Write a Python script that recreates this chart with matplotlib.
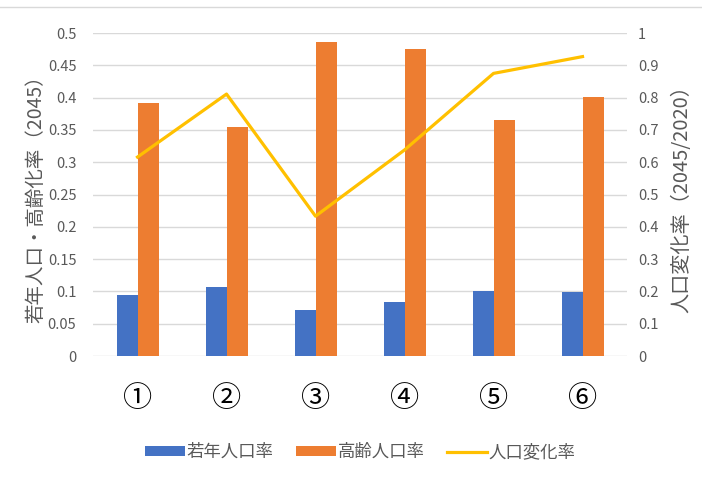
import matplotlib
matplotlib.use("Agg")
import matplotlib.pyplot as plt
import numpy as np
from matplotlib.lines import Line2D

plt.rcParams['font.family'] = ['Noto Sans CJK JP', 'DejaVu Sans']

areas = ['①', '②', '③', '④', '⑤', '⑥']
young_rate = [0.095, 0.107, 0.072, 0.084, 0.101, 0.099]
elderly_rate = [0.391, 0.355, 0.486, 0.475, 0.365, 0.401]
pop_change = [0.616, 0.811, 0.433, 0.638, 0.875, 0.927]

blue = '#4472C4'
orange = '#ED7D31'
yellow = '#FFC000'
gray = '#595959'

fig = plt.figure(figsize=(7.02, 4.8), dpi=100)
ax = fig.add_axes([0.1325, 0.2583, 0.7607, 0.6729])
ax2 = ax.twinx()

x = np.arange(len(areas))
w = 0.236
ax.bar(x - w / 2, young_rate, w, color=blue, label='若年人口率', zorder=2)
ax.bar(x + w / 2, elderly_rate, w, color=orange, label='高齢人口率', zorder=2)
ax2.plot(x, pop_change, color=yellow, lw=2.3, label='人口変化率')

ax.set_xlim(-0.5, len(areas) - 0.5)
ax.set_ylim(0, 0.5)
ax.set_yticks(np.arange(0, 0.501, 0.05))
ax.set_yticklabels(['0', '0.05', '0.1', '0.15', '0.2', '0.25', '0.3', '0.35', '0.4', '0.45', '0.5'])
ax2.set_ylim(0, 1)
ax2.set_yticks(np.arange(0, 1.01, 0.1))
ax2.set_yticklabels(['0', '0.1', '0.2', '0.3', '0.4', '0.5', '0.6', '0.7', '0.8', '0.9', '1'])

ax.grid(axis='y', color='#d9d9d9', lw=1, zorder=0)
ax.set_axisbelow(True)
for a in (ax, ax2):
    for s in a.spines.values():
        s.set_visible(False)
    a.tick_params(axis='y', length=0, colors=gray, labelsize=10.5)

ax.tick_params(axis='y', pad=12)
ax2.tick_params(axis='y', pad=8)
ax.set_xticks(x)
ax.set_xticklabels(areas, fontsize=21, color='black')
ax.tick_params(axis='x', length=0, pad=20)

ax.set_ylabel('若年人口・高齢化率（2045）', fontsize=14, color=gray, labelpad=1)
ax2.set_ylabel('人口変化率（2045/2020）', fontsize=14.5, color=gray, labelpad=9)

h1, l1 = ax.get_legend_handles_labels()
h2, l2 = ax2.get_legend_handles_labels()
fig.legend(h1 + h2, l1 + l2, loc='center', bbox_to_anchor=(0.513, 0.058), ncol=3,
           frameon=False, fontsize=12.5, handlelength=2.3, handleheight=0.45,
           columnspacing=1.3, handletextpad=0.1, labelcolor=gray)

fig.add_artist(Line2D([0, 1], [0.985, 0.985], color='#d9d9d9', lw=1))

fig.savefig('out.png', dpi=100)
